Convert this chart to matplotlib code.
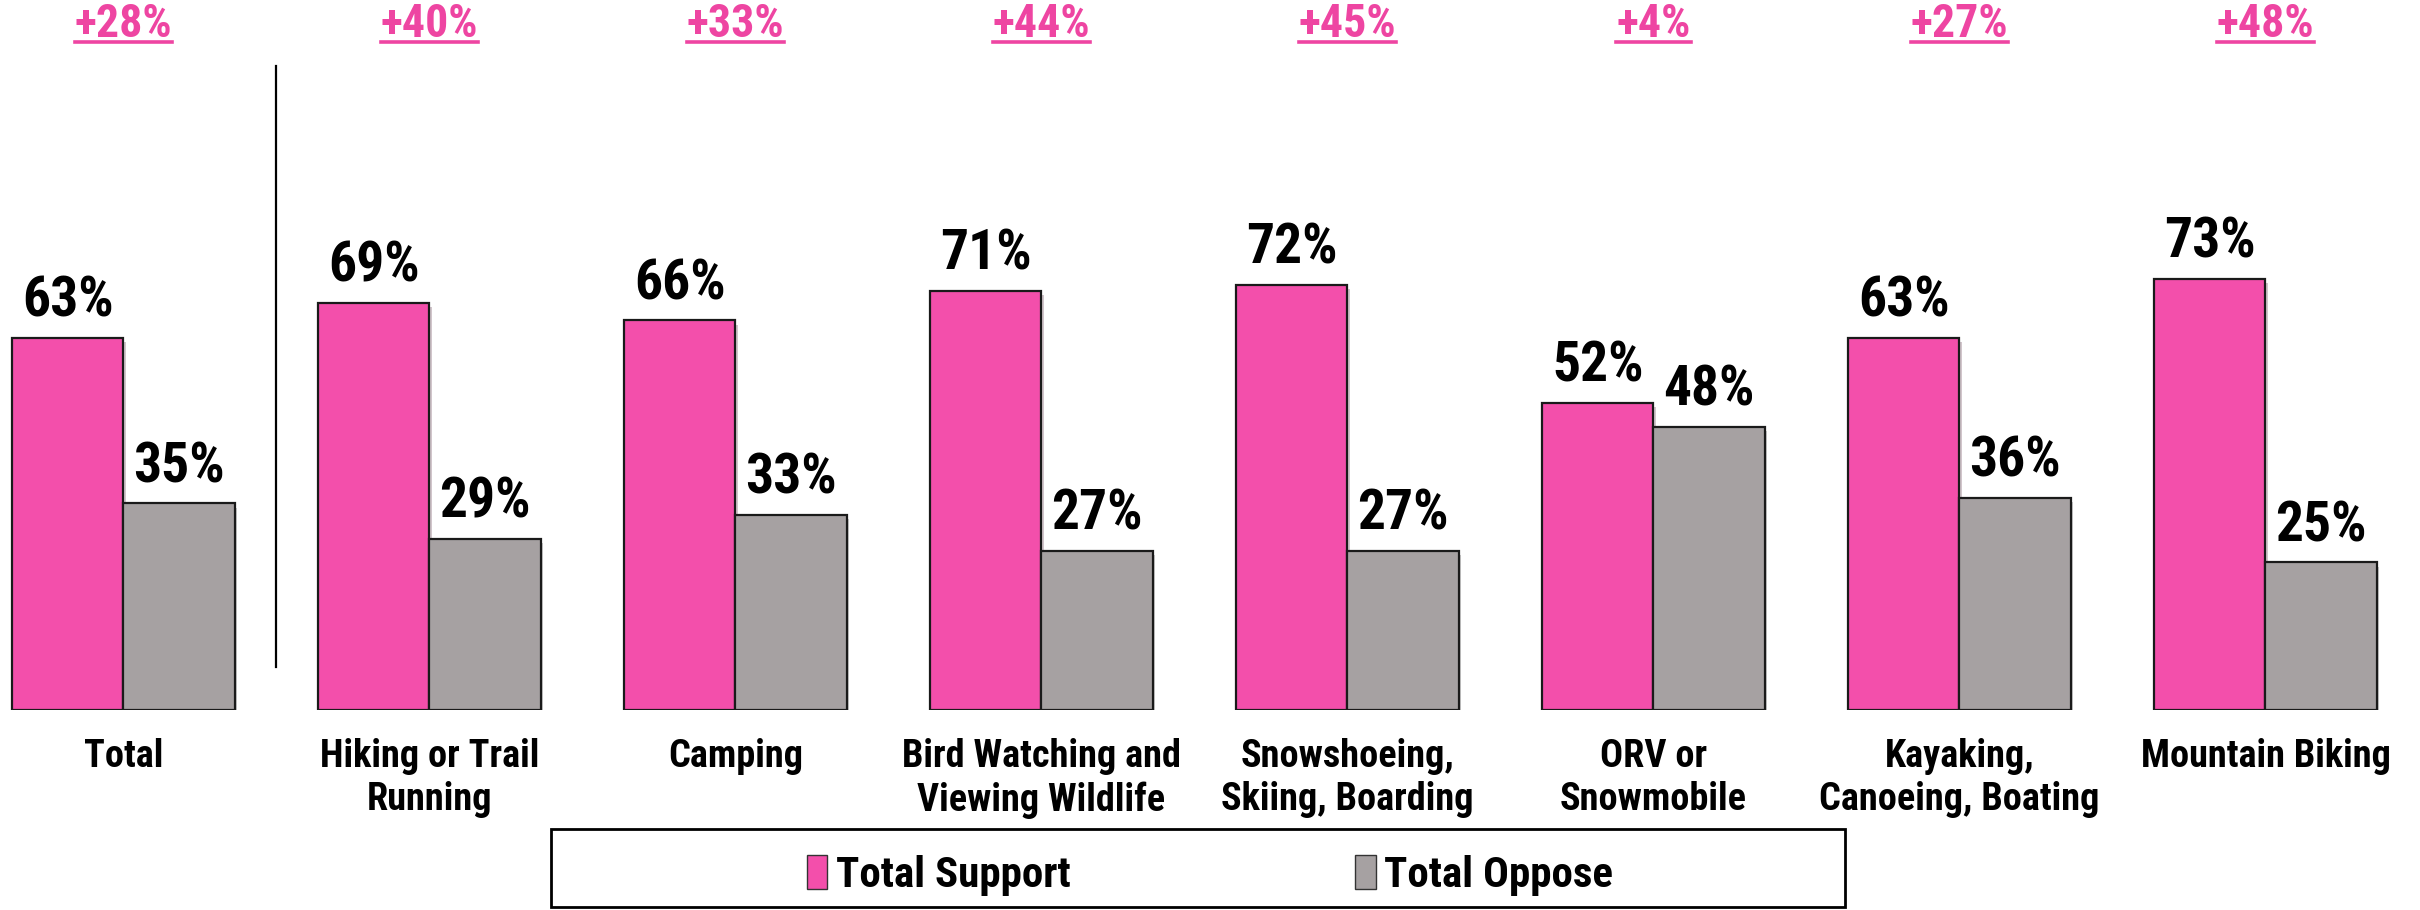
import numpy as np
import matplotlib
matplotlib.use("Agg")
import matplotlib.pyplot as plt
import matplotlib.patheffects as pe
from matplotlib.patches import Patch, Rectangle
from matplotlib.lines import Line2D
from matplotlib import font_manager

# ---------- data ----------
categories = ["Total", "Hiking or Trail\nRunning", "Camping",
              "Bird Watching and\nViewing Wildlife", "Snowshoeing,\nSkiing, Boarding",
              "ORV or\nSnowmobile", "Kayaking,\nCanoeing, Boating", "Mountain Biking"]
support = [63, 69, 66, 71, 72, 52, 63, 73]
oppose = [35, 29, 33, 27, 27, 48, 36, 25]
net_labels = ["+28%", "+40%", "+33%", "+44%", "+45%", "+4%", "+27%", "+48%"]

PINK = "#F34FAB"
GREY = "#A6A1A2"
NET_PINK = "#EE45A2"

# ---------- pick a narrow bold font (Calibri-like look) ----------
names = {f.name for f in font_manager.fontManager.ttflist}
font_kw = {"family": "DejaVu Sans", "fontstretch": "condensed"}
for cand in ["Roboto Condensed", "Liberation Sans Narrow", "Open Sans Condensed"]:
    if cand in names:
        font_kw = {"family": cand}
        break
prop_kw = {("stretch" if k == "fontstretch" else k): v for k, v in font_kw.items()}

fig = plt.figure(figsize=(24.2, 9.1), dpi=100)
ax = fig.add_axes([0, 0.2198, 1, 0.7802])

x = np.arange(len(categories))
w = 0.363
shadow = [pe.withSimplePatchShadow(offset=(2, -3), alpha=0.25)]
ax.bar(x - w / 2, support, w, color=PINK, edgecolor="#1a1a1a", linewidth=1.6,
       path_effects=shadow, zorder=3)
ax.bar(x + w / 2, oppose, w, color=GREY, edgecolor="#1a1a1a", linewidth=1.6,
       path_effects=shadow, zorder=3)

ax.set_xlim(-0.4036, 7.505)
ax.set_ylim(0, 120.3)

# value labels
for xi, v in zip(x - w / 2, support):
    ax.text(xi, v + 3.6, f"{v}%", ha="center", va="baseline", fontsize=40,
            fontweight="bold", color="black", **font_kw)
for xi, v in zip(x + w / 2, oppose):
    ax.text(xi, v + 3.6, f"{v}%", ha="center", va="baseline", fontsize=40,
            fontweight="bold", color="black", **font_kw)

# net difference labels on top
NET_Y = 114.0
net_texts = []
for xi, s in zip(x, net_labels):
    t = ax.text(xi, NET_Y, s, ha="center", va="baseline", fontsize=33,
                fontweight="bold", color=NET_PINK, **font_kw)
    net_texts.append(t)

# divider between Total and the activities
ax.plot([0.5, 0.5], [7.3, 109.2], color="black", linewidth=1.6, zorder=2)

# category labels
ax.set_xticks(x)
ax.set_xticklabels(categories, fontsize=27.5, fontweight="bold", linespacing=1.22, **font_kw)
ax.tick_params(axis="x", length=0, pad=20)
ax.set_yticks([])
for sp in ax.spines.values():
    sp.set_visible(False)

# legend with a wide frame
fig.patches.append(Rectangle((551 / 2420, 1 - 907 / 910), (1845 - 551) / 2420, (907 - 829) / 910,
                             transform=fig.transFigure, fill=False, edgecolor="black",
                             linewidth=2, zorder=1))
handles = [Patch(facecolor=PINK, edgecolor="#333333", label="Total Support"),
           Patch(facecolor=GREY, edgecolor="#333333", label="Total Oppose")]
fig.legend(handles=handles, loc="center", bbox_to_anchor=(0.5, 0.038), ncol=2, frameon=False,
           handlelength=0.48, handleheight=0.85, handletextpad=0.2, columnspacing=6.6,
           prop=font_manager.FontProperties(size=31, weight="bold", **prop_kw))

# underline the net labels
fig.canvas.draw()
r = fig.canvas.get_renderer()
inv = fig.transFigure.inverted()
base = ax.transData.transform((0, NET_Y))[1]
yb = inv.transform((0, base - 5))[1]
for t in net_texts:
    bb = t.get_window_extent(renderer=r)
    x0 = inv.transform((bb.x0, 0))[0]
    x1 = inv.transform((bb.x1, 0))[0]
    fig.add_artist(Line2D([x0, x1], [yb, yb], transform=fig.transFigure,
                          color=NET_PINK, linewidth=2.6))

fig.savefig("out.png", dpi=100)
